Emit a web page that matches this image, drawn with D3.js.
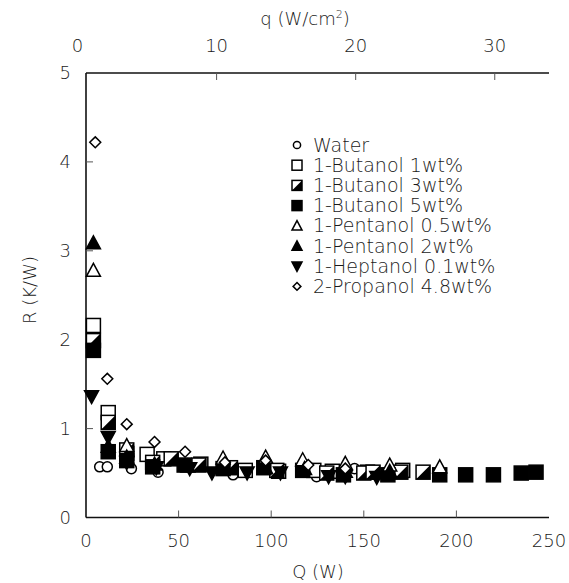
<!DOCTYPE html>
<html>
<head>
<meta charset="utf-8">
<script src="https://cdn.jsdelivr.net/npm/d3@7"></script>
<style>
  body { margin: 0; background: #fff; }
  text { font-family: "DejaVu Sans", sans-serif; font-weight: 200; fill: #1a1a1a; }
</style>
</head>
<body>
<div id="chart"></div>
<script>

// data: [Q (W), R (K/W)]
var water = [[7.4,0.57],[11.5,0.57],[24.5,0.55],[38.9,0.51],[79.4,0.48],[124.5,0.46],[145,0.55]];
var butanol1 = [[4,2.16],[12,1.18],[22,0.72],[33,0.71],[42,0.66],[62,0.60],[86,0.53],[104,0.52],[123,0.53],[133,0.52],[152,0.51],[171,0.53]];
var butanol3 = [[4,1.99],[12,1.07],[22,0.76],[36,0.62],[46,0.66],[61,0.59],[78,0.56],[103,0.53],[130,0.50],[150,0.50],[155,0.51],[170,0.51],[182,0.51]];
var butanol5 = [[4,1.88],[12,0.74],[22,0.64],[36,0.57],[53,0.59],[74,0.55],[96,0.56],[117,0.53],[139,0.48],[163,0.48],[191,0.48],[205,0.48],[220,0.48],[235,0.50],[243,0.51]];
var pentanol05 = [[4,2.78],[22,0.81],[74,0.67],[97,0.68],[117,0.65],[140,0.61],[164,0.59],[191,0.57]];
var pentanol2 = [[4,3.09],[12,0.80],[22,0.68],[37,0.60],[55,0.58],[75,0.56],[97,0.56],[118,0.55],[140,0.52],[164,0.52]];
var heptanol = [[3,1.36],[12,0.90],[22,0.62],[38,0.56],[56,0.55],[68,0.50],[87,0.50],[105,0.50],[131,0.46],[140,0.46],[157,0.45]];
var propanol = [[5,4.22],[11.5,1.56],[22,1.05],[37,0.85],[53.5,0.74],[75,0.62],[97,0.64],[120,0.59],[140,0.55]];

var legendNames = ["Water","1-Butanol 1wt%","1-Butanol 3wt%","1-Butanol 5wt%","1-Pentanol 0.5wt%","1-Pentanol 2wt%","1-Heptanol 0.1wt%","2-Propanol 4.8wt%"];
var markerTypes = ["circle","square","halfsquare","fillsquare","triangle","filltriangle","filldown","diamond"];
var seriesData = [water, butanol1, butanol3, butanol5, pentanol05, pentanol2, heptanol, propanol];

var xTicks = [0,50,100,150,200,250];
var yTicks = [0,1,2,3,4,5];
var qTicks = [10,20,30];

var width = 569, height = 583;
var mLeft = 86, mRight = 549, mTop = 73, mBottom = 517.5;

var svg = d3.select("#chart").append("svg")
    .attr("width", width)
    .attr("height", height);

var x = d3.scaleLinear().domain([0,250]).range([mLeft,mRight]);
var y = d3.scaleLinear().domain([0,5]).range([mBottom,mTop]);
// top axis: heat flux, offset from Q (0 sits left of the frame)
var xq = d3.scaleLinear().domain([0.61,33.9]).range([mLeft,mRight]);

// axis lines
svg.append("line").attr("x1",mLeft).attr("x2",mLeft).attr("y1",mTop).attr("y2",mBottom)
    .attr("stroke","#111").attr("stroke-width",1.6);
svg.append("line").attr("x1",mLeft).attr("x2",mRight).attr("y1",mBottom).attr("y2",mBottom)
    .attr("stroke","#111").attr("stroke-width",1.6);
svg.append("line").attr("x1",mLeft).attr("x2",mRight).attr("y1",mTop).attr("y2",mTop)
    .attr("stroke","#111").attr("stroke-width",1.6);

// inward ticks
svg.selectAll(".xt").data(xTicks.slice(1,5)).enter().append("line")
    .attr("x1",function(d){return x(d)}).attr("x2",function(d){return x(d)})
    .attr("y1",mBottom).attr("y2",mBottom-7)
    .attr("stroke","#555").attr("stroke-width",1);
svg.selectAll(".yt").data(yTicks.slice(1,5)).enter().append("line")
    .attr("x1",mLeft).attr("x2",mLeft+7)
    .attr("y1",function(d){return y(d)}).attr("y2",function(d){return y(d)})
    .attr("stroke","#555").attr("stroke-width",1);
svg.selectAll(".qt").data(qTicks).enter().append("line")
    .attr("x1",function(d){return xq(d)}).attr("x2",function(d){return xq(d)})
    .attr("y1",mTop).attr("y2",mTop+7)
    .attr("stroke","#555").attr("stroke-width",1);

// tick labels
svg.selectAll(".xl").data(xTicks).enter().append("text")
    .attr("x",function(d){return x(d)}).attr("y",547)
    .attr("text-anchor","middle").attr("font-size",18)
    .text(function(d){return d});
svg.selectAll(".yl").data(yTicks).enter().append("text")
    .attr("x",71).attr("y",function(d){return y(d)+6})
    .attr("text-anchor","end").attr("font-size",18)
    .text(function(d){return d});
svg.selectAll(".ql").data([0].concat(qTicks)).enter().append("text")
    .attr("x",function(d){return xq(d)}).attr("y",52)
    .attr("text-anchor","middle").attr("font-size",18)
    .text(function(d){return d});

// axis titles
svg.append("text").attr("x",318).attr("y",578).attr("text-anchor","middle")
    .attr("font-size",18).text("Q (W)");
svg.append("text").attr("transform","translate(36,290) rotate(-90)")
    .attr("text-anchor","middle").attr("font-size",18).text("R (K/W)");
var qt = svg.append("text").attr("x",305).attr("y",25).attr("text-anchor","middle")
    .attr("font-size",18);
qt.append("tspan").text("q (W/cm");
qt.append("tspan").attr("font-size",11).attr("dy",-7).text("2");
qt.append("tspan").attr("dy",7).text(")");

// marker drawing
function marker(g, type, cx, cy, s) {
    var h = s/2;
    if (type === "circle") {
        g.append("circle").attr("cx",cx).attr("cy",cy).attr("r",h*0.72)
            .attr("fill","#fff").attr("stroke","#000").attr("stroke-width",1.5);
    } else if (type === "square" || type === "fillsquare") {
        g.append("rect").attr("x",cx-h).attr("y",cy-h).attr("width",s).attr("height",s)
            .attr("fill", type === "square" ? "#fff" : "#000")
            .attr("stroke","#000").attr("stroke-width",1.5);
    } else if (type === "halfsquare") {
        g.append("rect").attr("x",cx-h).attr("y",cy-h).attr("width",s).attr("height",s)
            .attr("fill","#fff").attr("stroke","#000").attr("stroke-width",1.5);
        g.append("path").attr("d","M"+(cx-h)+","+(cy+h)+"L"+(cx+h)+","+(cy-h)+"L"+(cx+h)+","+(cy+h)+"Z")
            .attr("fill","#000");
    } else if (type === "triangle" || type === "filltriangle") {
        var th = s*0.85;
        g.append("path").attr("d","M"+cx+","+(cy-th/2-1)+"L"+(cx+h)+","+(cy+th/2)+"L"+(cx-h)+","+(cy+th/2)+"Z")
            .attr("fill", type === "triangle" ? "#fff" : "#000")
            .attr("stroke","#000").attr("stroke-width",1.5);
    } else if (type === "filldown") {
        var dh = s*0.85;
        g.append("path").attr("d","M"+cx+","+(cy+dh/2+1)+"L"+(cx+h)+","+(cy-dh/2)+"L"+(cx-h)+","+(cy-dh/2)+"Z")
            .attr("fill","#000").attr("stroke","#000").attr("stroke-width",1.5);
    } else if (type === "diamond") {
        var r = h*0.78;
        g.append("path").attr("d","M"+cx+","+(cy-r)+"L"+(cx+r)+","+cy+"L"+cx+","+(cy+r)+"L"+(cx-r)+","+cy+"Z")
            .attr("fill","#fff").attr("stroke","#000").attr("stroke-width",1.5);
    }
}

var plot = svg.append("g");
seriesData.forEach(function(series, i){
    var g = plot.append("g");
    series.forEach(function(d){
        marker(g, markerTypes[i], x(d[0]), y(d[1]), 14);
    });
});

// legend
var legend = svg.append("g");
legendNames.forEach(function(name, i){
    var ly = 145 + i*20.2;
    marker(legend, markerTypes[i], 297, ly, 10);
    legend.append("text").attr("x",313).attr("y",ly+6.5)
        .attr("font-size",19).text(name);
});

</script>
</body>
</html>
